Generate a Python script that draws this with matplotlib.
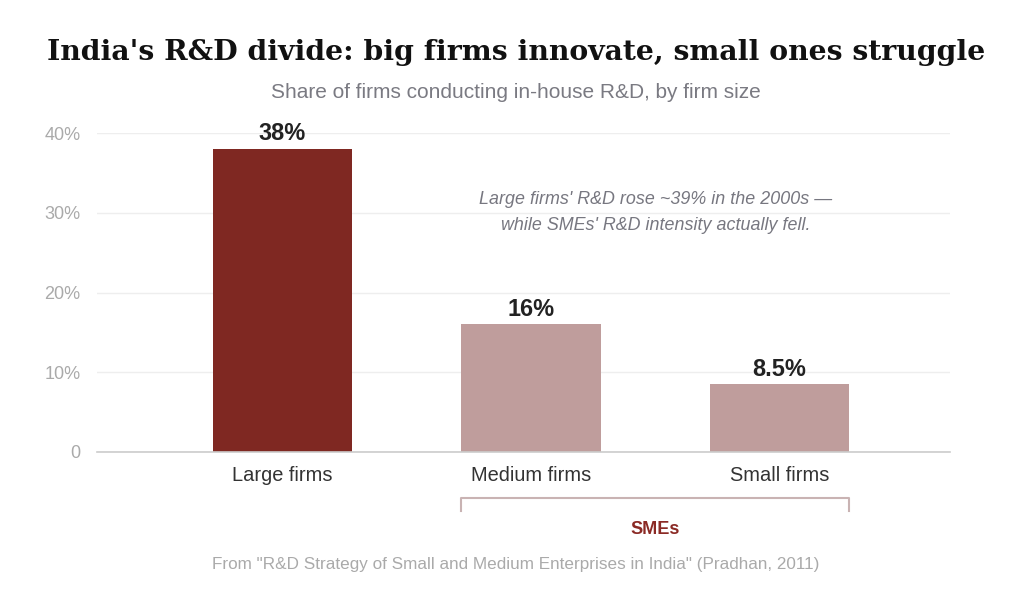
import matplotlib
matplotlib.use("Agg")
import matplotlib.pyplot as plt

categories = ["Large firms", "Medium firms", "Small firms"]
values = [38, 16, 8.5]
value_labels = ["38%", "16%", "8.5%"]
yticks = [0, 10, 20, 30, 40]
ytick_labels = ["0", "10%", "20%", "30%", "40%"]

W, H = 1024, 596
fig = plt.figure(figsize=(W / 100, H / 100), dpi=100)
ax = fig.add_axes([97 / W, 1 - 452 / H, (950 - 97) / W, (452 - 133) / H])

colors = ["#7f2822", "#bf9d9c", "#bf9d9c"]
x = list(range(len(categories)))
ax.bar(x, values, width=0.56, color=colors, zorder=3)
ax.set_xlim(-0.746, 2.686)
ax.set_ylim(0, 40)
ax.set_yticks(yticks)
ax.set_yticklabels(ytick_labels, color="#aaaaaa", fontsize=13, family="Liberation Sans")
ax.set_xticks(x)
ax.set_xticklabels(categories, color="#333333", fontsize=14.4, family="Liberation Sans")
ax.tick_params(axis="both", length=0)
ax.tick_params(axis="y", pad=12)
ax.tick_params(axis="x", pad=10)
ax.grid(axis="y", color="#eeeeee", linewidth=1, zorder=0)
for s in ["top", "right", "left"]:
    ax.spines[s].set_visible(False)
ax.spines["bottom"].set_color("#cccccc")
ax.spines["bottom"].set_linewidth(1.2)
ax.spines["bottom"].set_zorder(4)

for xi, v, lab in zip(x, values, value_labels):
    ax.annotate(lab, (xi, v), xytext=(0, 2.5), textcoords="offset points",
                ha="center", va="bottom", fontsize=16.9, fontweight="bold",
                color="#222222", family="Liberation Sans", clip_on=False)

fig.text(516 / W, 1 - 53 / H, "India's R&D divide: big firms innovate, small ones struggle",
         ha="center", va="center", fontsize=20.35, fontweight="bold",
         family="DejaVu Serif", color="#111111")
fig.text(516 / W, 1 - 92 / H, "Share of firms conducting in-house R&D, by firm size",
         ha="center", va="center", fontsize=15, family="Liberation Sans", color="#7a7a82")

fig.text(656 / W, 1 - 200 / H, "Large firms' R&D rose ~39% in the 2000s \u2014",
         ha="center", va="center", fontsize=12.85, style="italic",
         family="Liberation Sans", color="#777780")
fig.text(656 / W, 1 - 226 / H, "while SMEs' R&D intensity actually fell.",
         ha="center", va="center", fontsize=12.85, style="italic",
         family="Liberation Sans", color="#777780")

# SME bracket
bx0, bx1 = 461 / W, 849 / W
by, by2 = 1 - 498 / H, 1 - 511 / H
fig.add_artist(plt.Line2D([bx0, bx0, bx1, bx1], [by2, by, by, by2],
                          color="#c9b3b3", linewidth=1.5, transform=fig.transFigure))
fig.text(655 / W, 1 - 530 / H, "SMEs", ha="center", va="center", fontsize=13.1,
         fontweight="bold", family="Liberation Sans", color="#8b2a25")

fig.text(516 / W, 1 - 565 / H,
         "From \"R&D Strategy of Small and Medium Enterprises in India\" (Pradhan, 2011)",
         ha="center", va="center", fontsize=12.3, family="Liberation Sans", color="#aaaaaa")

fig.savefig("out.png", dpi=100, facecolor="white")
